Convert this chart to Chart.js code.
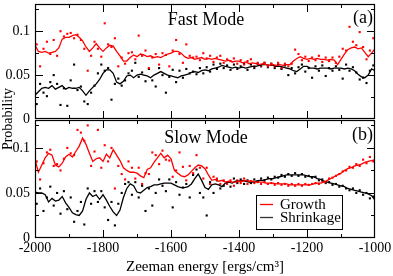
<!DOCTYPE html>
<html>
<head>
<meta charset="utf-8">
<script src="https://cdn.jsdelivr.net/npm/chart.js@4.4.1/dist/chart.umd.min.js"></script>
<style>
  html, body { margin: 0; padding: 0; background: #fff; }
  #wrap { position: relative; width: 393px; height: 276px; }
  #wrap canvas { position: absolute; left: 0; top: 0; }
</style>
</head>
<body>
<div id="wrap">
  <canvas id="fast" width="393" height="276"></canvas>
  <canvas id="slow" width="393" height="276"></canvas>
</div>
<script>
const yTicks = [0, 0.05, 0.1];
const seriesNames = ['Growth', 'Shrinkage'];

// sampling grid: curves every 10, dots half way between
const lineEnergy = [];
for (let e = -2000; e <= -1000; e += 10) lineEnergy.push(e);
const dotEnergy = [];
for (let e = -1995; e < -1000; e += 10) dotEnergy.push(e);

// (a) fast mode
const fastGrowthLine = [
  0.084, 0.077, 0.076, 0.077, 0.075, 0.076, 0.077, 0.081, 0.091, 0.093,
  0.093, 0.095, 0.096, 0.093, 0.089, 0.082, 0.077, 0.081, 0.086, 0.081,
  0.077, 0.081, 0.084, 0.083, 0.077, 0.072, 0.066, 0.066, 0.070, 0.073,
  0.071, 0.074, 0.073, 0.071, 0.072, 0.070, 0.071, 0.070, 0.072, 0.074,
  0.075, 0.077, 0.077, 0.075, 0.071, 0.069, 0.070, 0.068, 0.069, 0.070,
  0.068, 0.069, 0.068, 0.069, 0.068, 0.067, 0.066, 0.067, 0.065, 0.066,
  0.066, 0.064, 0.065, 0.063, 0.064, 0.063, 0.062, 0.063, 0.062, 0.061,
  0.062, 0.061, 0.062, 0.061, 0.062, 0.062, 0.066, 0.069, 0.071, 0.069,
  0.068, 0.069, 0.068, 0.069, 0.068, 0.068, 0.067, 0.068, 0.067, 0.062,
  0.068, 0.074, 0.079, 0.081, 0.082, 0.080, 0.081, 0.076, 0.071, 0.075,
  0.080
];
const fastShrinkLine = [
  0.027, 0.031, 0.035, 0.036, 0.035, 0.038, 0.034, 0.036, 0.038, 0.034,
  0.036, 0.035, 0.035, 0.036, 0.032, 0.027, 0.032, 0.036, 0.040, 0.045,
  0.052, 0.056, 0.056, 0.052, 0.042, 0.040, 0.043, 0.049, 0.050, 0.047,
  0.050, 0.051, 0.050, 0.049, 0.047, 0.050, 0.052, 0.054, 0.052, 0.050,
  0.049, 0.048, 0.047, 0.049, 0.050, 0.051, 0.053, 0.054, 0.053, 0.055,
  0.056, 0.055, 0.057, 0.058, 0.059, 0.061, 0.060, 0.059, 0.058, 0.059,
  0.058, 0.059, 0.058, 0.059, 0.060, 0.060, 0.061, 0.062, 0.062, 0.061,
  0.061, 0.060, 0.060, 0.059, 0.058, 0.057, 0.055, 0.054, 0.057, 0.060,
  0.060, 0.058, 0.058, 0.057, 0.058, 0.058, 0.058, 0.057, 0.058, 0.058,
  0.058, 0.057, 0.058, 0.057, 0.055, 0.051, 0.048, 0.047, 0.050, 0.057,
  0.055
];
const fastGrowthDots = [
  0.085, 0.060, 0.080, 0.088, 0.074, 0.090, 0.072, 0.100, 0.094, 0.097,
  0.098, 0.092, 0.096, 0.090, 0.080, 0.055, 0.072, 0.088, 0.080, 0.071,
  0.109, 0.085, 0.082, 0.092, 0.060, 0.070, 0.063, 0.075, 0.076, 0.068,
  0.095, 0.072, 0.078, 0.058, 0.070, 0.074, 0.062, 0.075, 0.073, 0.060,
  0.078, 0.090, 0.074, 0.064, 0.085, 0.072, 0.070, 0.071, 0.067, 0.075,
  0.069, 0.072, 0.065, 0.070, 0.072, 0.064, 0.068, 0.066, 0.069, 0.063,
  0.067, 0.062, 0.066, 0.068, 0.060, 0.064, 0.061, 0.064, 0.060, 0.063,
  0.060, 0.064, 0.058, 0.063, 0.060, 0.063, 0.079, 0.074, 0.067, 0.071,
  0.066, 0.070, 0.067, 0.072, 0.065, 0.070, 0.066, 0.070, 0.064, 0.071,
  0.080, 0.078, 0.105, 0.088, 0.084, 0.099, 0.082, 0.068, 0.078, 0.092
];
const fastShrinkDots = [
  0.017, 0.040, 0.030, 0.026, 0.042, 0.050, 0.040, 0.016, 0.035, 0.015,
  0.044, 0.062, 0.033, 0.037, 0.020, 0.017, 0.030, 0.038, 0.052, 0.062,
  0.055, 0.058, 0.022, 0.040, 0.046, 0.038, 0.044, 0.052, 0.055, 0.064,
  0.048, 0.053, 0.043, 0.057, 0.044, 0.037, 0.058, 0.050, 0.030, 0.048,
  0.056, 0.042, 0.055, 0.047, 0.057, 0.052, 0.054, 0.051, 0.058, 0.052,
  0.059, 0.054, 0.062, 0.057, 0.063, 0.058, 0.061, 0.056, 0.062, 0.057,
  0.060, 0.063, 0.056, 0.062, 0.058, 0.063, 0.060, 0.064, 0.059, 0.063,
  0.058, 0.062, 0.057, 0.061, 0.050, 0.058, 0.052, 0.059, 0.062, 0.054,
  0.058, 0.047, 0.060, 0.055, 0.061, 0.049, 0.058, 0.055, 0.060, 0.056,
  0.046, 0.062, 0.055, 0.059, 0.053, 0.045, 0.047, 0.041, 0.055, 0.061
];

// (b) slow mode
const slowGrowthLine = [
  0.087, 0.073, 0.081, 0.089, 0.094, 0.092, 0.081, 0.079, 0.083, 0.090,
  0.093, 0.090, 0.096, 0.102, 0.111, 0.104, 0.094, 0.085, 0.088, 0.089,
  0.085, 0.093, 0.089, 0.098, 0.092, 0.086, 0.078, 0.075, 0.073, 0.073,
  0.072, 0.069, 0.067, 0.076, 0.078, 0.084, 0.089, 0.094, 0.089, 0.092,
  0.088, 0.075, 0.072, 0.069, 0.068, 0.070, 0.074, 0.078, 0.081, 0.080,
  0.077, 0.070, 0.064, 0.065, 0.063, 0.064, 0.062, 0.063, 0.062, 0.062,
  0.063, 0.063, 0.064, 0.063, 0.063, 0.062, 0.062, 0.062, 0.061, 0.061,
  0.061, 0.060, 0.060, 0.060, 0.060, 0.059, 0.059, 0.059, 0.059, 0.059,
  0.059, 0.059, 0.060, 0.061, 0.061, 0.062, 0.064, 0.066, 0.068, 0.070,
  0.072, 0.075, 0.077, 0.078, 0.080, 0.081, 0.082, 0.084, 0.085, 0.086,
  0.087
];
const slowShrinkLine = [
  0.051, 0.050, 0.050, 0.048, 0.040, 0.044, 0.041, 0.042, 0.046, 0.039,
  0.034, 0.028, 0.026, 0.025, 0.030, 0.043, 0.050, 0.046, 0.048, 0.043,
  0.048, 0.042, 0.035, 0.029, 0.025, 0.031, 0.045, 0.055, 0.060, 0.058,
  0.051, 0.050, 0.053, 0.056, 0.057, 0.059, 0.059, 0.060, 0.061, 0.061,
  0.061, 0.059, 0.057, 0.056, 0.056, 0.057, 0.060, 0.066, 0.071, 0.064,
  0.056, 0.054, 0.059, 0.060, 0.059, 0.057, 0.061, 0.062, 0.061, 0.063,
  0.063, 0.064, 0.063, 0.062, 0.062, 0.063, 0.064, 0.064, 0.065, 0.066,
  0.066, 0.067, 0.068, 0.069, 0.070, 0.070, 0.070, 0.070, 0.070, 0.070,
  0.069, 0.068, 0.068, 0.066, 0.065, 0.063, 0.062, 0.061, 0.060, 0.059,
  0.058, 0.057, 0.055, 0.054, 0.053, 0.052, 0.051, 0.050, 0.049, 0.047,
  0.042
];
const slowGrowthDots = [
  0.085, 0.065, 0.083, 0.095, 0.098, 0.080, 0.082, 0.075, 0.088, 0.100,
  0.094, 0.092, 0.120, 0.117, 0.108, 0.125, 0.080, 0.096, 0.120, 0.078,
  0.103, 0.085, 0.100, 0.055, 0.080, 0.071, 0.065, 0.085, 0.078, 0.066,
  0.078, 0.060, 0.072, 0.071, 0.095, 0.092, 0.082, 0.097, 0.087, 0.086,
  0.068, 0.075, 0.095, 0.079, 0.064, 0.080, 0.072, 0.092, 0.078, 0.066,
  0.078, 0.060, 0.068, 0.066, 0.060, 0.064, 0.060, 0.064, 0.058, 0.064,
  0.061, 0.066, 0.060, 0.063, 0.061, 0.062, 0.060, 0.062, 0.060, 0.061,
  0.059, 0.061, 0.059, 0.060, 0.058, 0.060, 0.058, 0.060, 0.058, 0.060,
  0.059, 0.060, 0.061, 0.060, 0.063, 0.062, 0.066, 0.067, 0.069, 0.071,
  0.074, 0.075, 0.079, 0.078, 0.082, 0.080, 0.087, 0.083, 0.090, 0.085
];
const slowShrinkDots = [
  0.038, 0.055, 0.030, 0.045, 0.057, 0.036, 0.050, 0.027, 0.052, 0.032,
  0.045, 0.018, 0.030, 0.040, 0.015, 0.055, 0.038, 0.052, 0.040, 0.052,
  0.034, 0.020, 0.040, 0.014, 0.038, 0.050, 0.060, 0.062, 0.048, 0.062,
  0.045, 0.058, 0.030, 0.055, 0.036, 0.050, 0.065, 0.058, 0.052, 0.065,
  0.034, 0.062, 0.048, 0.056, 0.060, 0.045, 0.070, 0.076, 0.050, 0.045,
  0.025, 0.062, 0.050, 0.064, 0.055, 0.058, 0.062, 0.057, 0.066, 0.061,
  0.065, 0.060, 0.064, 0.061, 0.065, 0.063, 0.066, 0.064, 0.067, 0.065,
  0.068, 0.067, 0.070, 0.068, 0.071, 0.069, 0.072, 0.069, 0.071, 0.068,
  0.069, 0.067, 0.068, 0.064, 0.065, 0.061, 0.062, 0.059, 0.060, 0.057,
  0.058, 0.055, 0.053, 0.055, 0.050, 0.053, 0.048, 0.050, 0.044, 0.046
];

const RED = '#ff0000';
const BLACK = '#000000';
const SERIF = "'Liberation Serif', 'DejaVu Serif', serif";

function pairs(xs, ys) {
  return ys.map((y, i) => ({ x: xs[i], y: y }));
}

function makeDatasets(growthLine, shrinkLine, growthDots, shrinkDots) {
  const dots = (vals, color) => ({
    type: 'scatter', data: pairs(dotEnergy, vals), order: 2,
    backgroundColor: color, borderWidth: 0, pointStyle: 'rect', pointRadius: 1.5
  });
  const curve = (vals, color, name) => ({
    type: 'line', label: name, data: pairs(lineEnergy, vals), order: 1,
    borderColor: color, borderWidth: 1.3, pointRadius: 0, tension: 0, fill: false
  });
  return [
    dots(growthDots, RED), dots(shrinkDots, BLACK),
    curve(growthLine, RED, seriesNames[0]), curve(shrinkLine, BLACK, seriesNames[1])
  ];
}

// frame, inward ticks, panel captions, legend and y title
const panelDecor = {
  id: 'panelDecor',
  afterDatasetsDraw(chart, args, opts) {
    const { ctx, chartArea: a, scales } = chart;
    const x = scales.x, y = scales.y;
    ctx.save();
    ctx.strokeStyle = '#000';
    ctx.lineWidth = 1;
    ctx.beginPath();
    for (let e = -1900; e < -1000; e += 100) {
      const px = Math.round(x.getPixelForValue(e)) + 0.5;
      const len = e % 200 === 0 ? 8 : 4;
      ctx.moveTo(px, a.bottom); ctx.lineTo(px, a.bottom - len);
      ctx.moveTo(px, a.top); ctx.lineTo(px, a.top + len);
    }
    for (let v = 0.025; v < 0.13; v += 0.025) {
      const py = Math.round(y.getPixelForValue(v)) + 0.5;
      const len = Math.abs(v / 0.05 - Math.round(v / 0.05)) < 1e-6 ? 8 : 4;
      ctx.moveTo(a.left, py); ctx.lineTo(a.left + len, py);
      ctx.moveTo(a.right, py); ctx.lineTo(a.right - len, py);
    }
    ctx.stroke();
    ctx.lineWidth = 1.2;
    ctx.strokeRect(a.left + 0.5, a.top + 0.5, a.right - a.left - 1, a.bottom - a.top - 1);

    ctx.fillStyle = '#000';
    ctx.textBaseline = 'middle';
    ctx.font = '18px ' + SERIF;
    ctx.textAlign = 'center';
    ctx.fillText(opts.title, (a.left + a.right) / 2 + 1, a.top + opts.titleDy);
    ctx.textAlign = 'right';
    ctx.fillText(opts.tag, a.right - 2, a.top + opts.tagDy);

    if (opts.legend) {
      const bx = a.right - 119, by = a.top + 75, bw = 86, bh = 34;
      ctx.fillStyle = '#fff';
      ctx.fillRect(bx, by, bw, bh);
      ctx.lineWidth = 1;
      ctx.strokeStyle = '#000';
      ctx.strokeRect(bx + 0.5, by + 0.5, bw, bh);
      const rows = [[seriesNames[0], RED], [seriesNames[1], '#333']];
      ctx.font = '15px ' + SERIF;
      ctx.textAlign = 'left';
      rows.forEach(([name, color], i) => {
        const ry = by + 9.5 + i * 13;
        ctx.strokeStyle = color;
        ctx.lineWidth = 1.3;
        ctx.beginPath();
        ctx.moveTo(bx + 4, ry); ctx.lineTo(bx + 17, ry);
        ctx.stroke();
        ctx.fillStyle = '#000';
        ctx.fillText(name, bx + 24, ry + 1);
      });
    }

    if (opts.yTitle) {
      ctx.translate(8, 119);
      ctx.rotate(-Math.PI / 2);
      ctx.font = '14px ' + SERIF;
      ctx.textAlign = 'center';
      ctx.fillStyle = '#000';
      ctx.fillText(opts.yTitle, 0, 0);
    }
    ctx.restore();
  }
};

function yScale() {
  return {
    min: 0, max: 0.131,
    grid: { display: false, drawTicks: false },
    border: { display: false },
    afterBuildTicks: s => { s.ticks = yTicks.map(v => ({ value: v })); },
    afterFit: s => { s.width = 35; s.paddingTop = 0; s.paddingBottom = 0; },
    ticks: {
      padding: 5, color: '#000',
      font: { family: SERIF, size: 14 },
      callback: v => String(v)
    }
  };
}

new Chart(document.getElementById('fast'), {
  data: { datasets: makeDatasets(fastGrowthLine, fastShrinkLine, fastGrowthDots, fastShrinkDots) },
  options: {
    responsive: false, animation: false,
    layout: { padding: { left: 0, top: 2, right: 18, bottom: 157 } },
    scales: {
      x: { type: 'linear', min: -2000, max: -1000, display: false },
      y: yScale()
    },
    plugins: {
      legend: { display: false }, tooltip: { enabled: false },
      panelDecor: { title: 'Fast Mode', tag: '(a)', titleDy: 16, tagDy: 14, legend: false }
    }
  },
  plugins: [panelDecor]
});

new Chart(document.getElementById('slow'), {
  data: { datasets: makeDatasets(slowGrowthLine, slowShrinkLine, slowGrowthDots, slowShrinkDots) },
  options: {
    responsive: false, animation: false,
    layout: { padding: { left: 0, top: 120, right: 18, bottom: 0 } },
    scales: {
      x: {
        type: 'linear', min: -2000, max: -1000,
        grid: { display: false, drawTicks: false },
        border: { display: false },
        afterBuildTicks: s => {
          s.ticks = [-2000, -1800, -1600, -1400, -1200, -1000].map(v => ({ value: v }));
        },
        afterFit: s => { s.height = 38; s.paddingLeft = 0; s.paddingRight = 0; },
        ticks: {
          padding: 2, color: '#000', maxRotation: 0,
          font: { family: SERIF, size: 14 },
          callback: v => String(v)
        },
        title: {
          display: true, text: 'Zeeman energy [ergs/cm³]', color: '#000',
          font: { family: SERIF, size: 15 }, padding: { top: 0, bottom: 0 }
        }
      },
      y: yScale()
    },
    plugins: {
      legend: { display: false }, tooltip: { enabled: false },
      panelDecor: { title: 'Slow Mode', tag: '(b)', titleDy: 18, tagDy: 15, legend: true, yTitle: 'Probability' }
    }
  },
  plugins: [panelDecor]
});
</script>
</body>
</html>
